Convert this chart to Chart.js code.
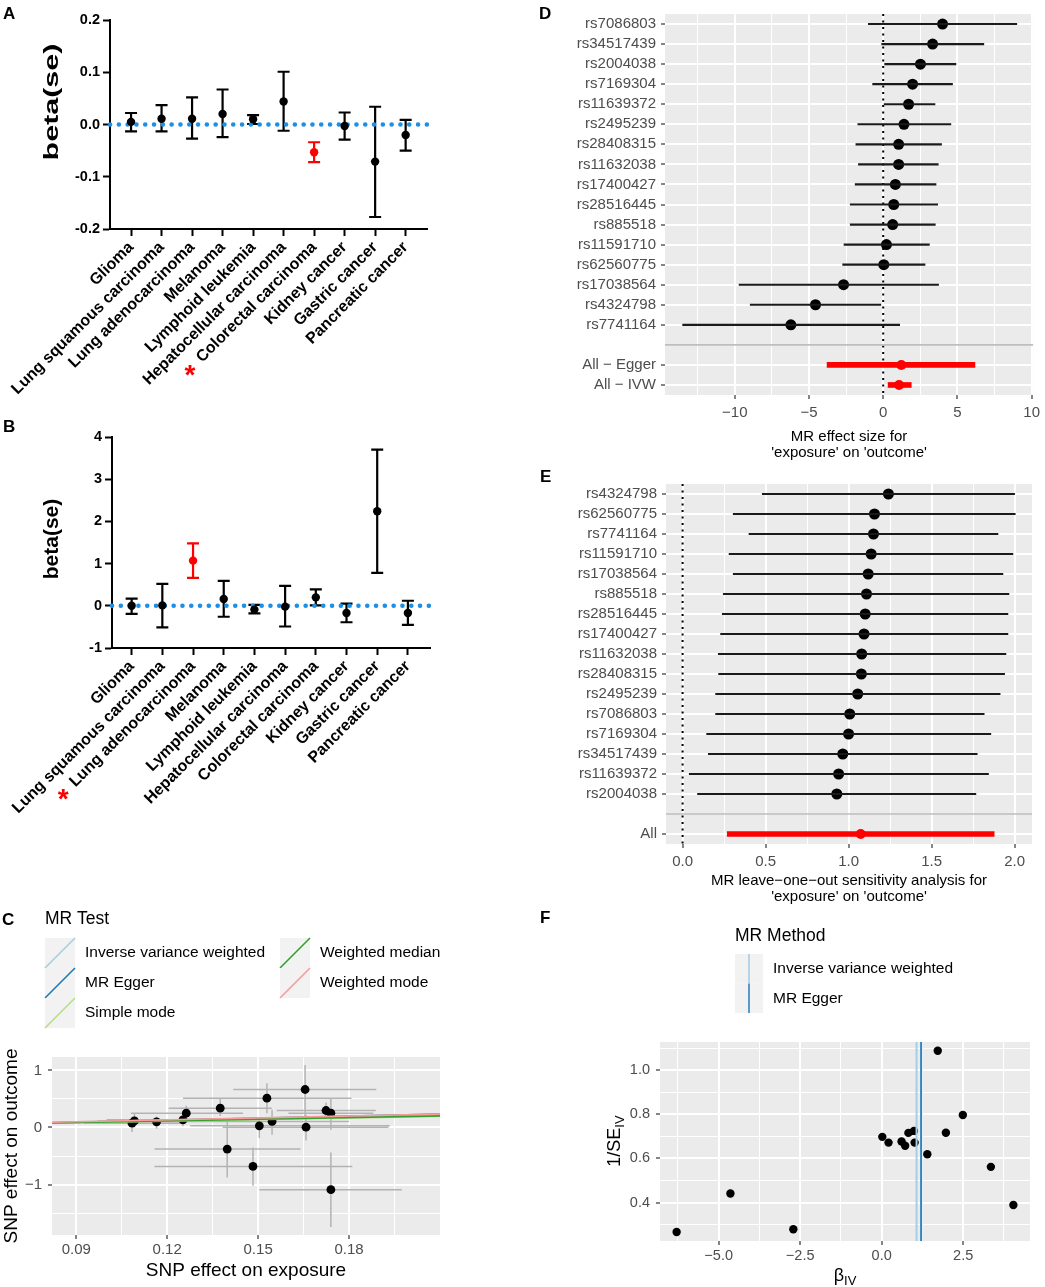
<!DOCTYPE html>
<html>
<head>
<meta charset="utf-8">
<script src="https://cdn.jsdelivr.net/npm/chart.js@4/dist/chart.umd.min.js"></script>
<style>
  body { margin: 0; background: #fff; width: 1045px; height: 1287px; position: relative; overflow: hidden; font-family: "Liberation Sans", Arial, sans-serif; }
  canvas { position: absolute; }
  .tag { position: absolute; font-weight: bold; font-size: 17px; line-height: 17px; color: #000; z-index: 2; }
</style>
</head>
<body>
<canvas id="cA" style="left:0;top:0;width:450px;height:420px" width="450" height="420"></canvas>
<canvas id="cB" style="left:0;top:420px;width:450px;height:480px" width="450" height="480"></canvas>
<canvas id="cC" style="left:0;top:900px;width:450px;height:387px" width="450" height="387"></canvas>
<canvas id="cD" style="left:540px;top:0;width:505px;height:470px" width="505" height="470"></canvas>
<canvas id="cE" style="left:540px;top:470px;width:505px;height:440px" width="505" height="440"></canvas>
<canvas id="cF" style="left:540px;top:900px;width:505px;height:387px" width="505" height="387"></canvas>
<div class="tag" style="left:3px;top:5px">A</div>
<div class="tag" style="left:3px;top:418px">B</div>
<div class="tag" style="left:2px;top:911px">C</div>
<div class="tag" style="left:539px;top:5px">D</div>
<div class="tag" style="left:540px;top:468px">E</div>
<div class="tag" style="left:540px;top:909px">F</div>
<script>
const FONT = '"Liberation Sans", Arial, Helvetica, sans-serif';
const RED = '#FF0000';

// A / B : per cancer type estimates
const cancerTypes = ['Glioma', 'Lung squamous carcinoma', 'Lung adenocarcinoma', 'Melanoma', 'Lymphoid leukemia',
  'Hepatocellular carcinoma', 'Colorectal carcinoma', 'Kidney cancer', 'Gastric cancer', 'Pancreatic cancer'];
const betaA = [0.005, 0.011, 0.011, 0.020, 0.010, 0.044, -0.053, -0.003, -0.071, -0.020];
const lowA  = [-0.013, -0.013, -0.027, -0.024, 0.001, -0.012, -0.072, -0.029, -0.177, -0.050];
const highA = [0.022, 0.037, 0.052, 0.067, 0.018, 0.101, -0.034, 0.023, 0.034, 0.009];
const sigA = 6;
const betaB = [0.00, 0.01, 1.07, 0.16, -0.09, -0.02, 0.20, -0.17, 2.24, -0.17];
const lowB  = [-0.19, -0.51, 0.66, -0.26, -0.18, -0.49, 0.01, -0.39, 0.78, -0.45];
const highB = [0.17, 0.52, 1.48, 0.59, 0.02, 0.47, 0.39, 0.05, 3.70, 0.12];
const sigB = 2;

// C : scatter of SNP effects
const snpExp  = [0.1084, 0.1092, 0.1165, 0.1252, 0.1263, 0.1375, 0.1398, 0.1483, 0.1504, 0.1529, 0.1546, 0.1655, 0.1658, 0.1724, 0.1740, 0.1740];
const snpOut  = [0.076, 0.117, 0.099, 0.134, 0.251, 0.338, -0.379, -0.682, 0.029, 0.513, 0.105, 0.665, 0.006, 0.297, 0.251, -1.090];
const expLow  = [0.0925, 0.0970, 0.1065, 0.1000, 0.1080, 0.1205, 0.1158, 0.1158, 0.1276, 0.1252, 0.1255, 0.1418, 0.1383, 0.1561, 0.1600, 0.1504];
const expHigh = [0.1245, 0.1215, 0.1265, 0.1505, 0.1450, 0.1545, 0.1640, 0.1811, 0.1934, 0.1808, 0.1800, 0.1890, 0.1930, 0.1888, 0.1880, 0.1974];
const outLow  = [-0.08, 0.00, -0.02, 0.02, 0.12, 0.20, -0.875, -1.02, -0.187, 0.251, -0.128, 0.192, -0.227, 0.163, -0.04, -1.743];
const outHigh = [0.17, 0.24, 0.19, 0.25, 0.38, 0.50, 0.134, -0.35, 0.163, 0.776, 0.31, 1.096, 0.22, 0.437, 0.513, -0.437];
const methodsC = ['Inverse variance weighted', 'MR Egger', 'Simple mode', 'Weighted median', 'Weighted mode'];
const slopeC = [1.07, 1.21, 0.93, 0.96, 1.11];
const interceptC = [0, -0.02, 0, 0, 0];
const methodColors = ['#A6CEE3', '#1F78B4', '#B2DF8A', '#33A02C', '#FB9A99'];

// D : single SNP forest plot
const snpD = ['rs7086803', 'rs34517439', 'rs2004038', 'rs7169304', 'rs11639372', 'rs2495239', 'rs28408315', 'rs11632038',
  'rs17400427', 'rs28516445', 'rs885518', 'rs11591710', 'rs62560775', 'rs17038564', 'rs4324798', 'rs7741164'];
const betaD = [4.00, 3.33, 2.51, 1.98, 1.71, 1.40, 1.04, 1.04, 0.82, 0.71, 0.64, 0.22, 0.04, -2.67, -4.56, -6.22];
const lowD  = [-1.00, -0.10, 0.10, -0.71, 0.00, -1.71, -1.84, -1.67, -1.89, -2.22, -2.22, -2.64, -2.73, -9.71, -8.96, -13.51];
const highD = [9.00, 6.78, 4.90, 4.67, 3.49, 4.56, 3.93, 3.71, 3.56, 3.67, 3.51, 3.11, 2.82, 3.73, -0.16, 1.11];
const summaryD = ['All \u2212 Egger', 'All \u2212 IVW'];
const sumBetaD = [1.22, 1.07];
const sumLowD  = [-3.78, 0.33];
const sumHighD = [6.18, 1.89];

// E : leave-one-out
const snpE = ['rs4324798', 'rs62560775', 'rs7741164', 'rs11591710', 'rs17038564', 'rs885518', 'rs28516445', 'rs17400427',
  'rs11632038', 'rs28408315', 'rs2495239', 'rs7086803', 'rs7169304', 'rs34517439', 'rs11639372', 'rs2004038'];
const betaE = [1.240, 1.156, 1.150, 1.136, 1.118, 1.108, 1.100, 1.093, 1.079, 1.077, 1.055, 1.007, 1.000, 0.965, 0.940, 0.929];
const lowE  = [0.480, 0.305, 0.400, 0.280, 0.305, 0.245, 0.239, 0.229, 0.215, 0.217, 0.199, 0.199, 0.145, 0.155, 0.040, 0.090];
const highE = [2.000, 2.004, 1.900, 1.990, 1.930, 1.966, 1.960, 1.960, 1.948, 1.940, 1.913, 1.817, 1.857, 1.775, 1.843, 1.767];
const summaryE = ['All'];
const sumBetaE = [1.073];
const sumLowE  = [0.269];
const sumHighE = [1.877];

// F : funnel plot
const betaIV = [-6.29, -4.64, -2.71, 0.02, 0.21, 0.61, 0.72, 0.82, 0.99, 1.01, 1.40, 1.72, 1.97, 2.49, 3.35, 4.04];
const invSE  = [0.267, 0.441, 0.279, 0.698, 0.672, 0.677, 0.658, 0.716, 0.725, 0.672, 0.619, 1.088, 0.717, 0.797, 0.562, 0.389];
const methodsF = ['Inverse variance weighted', 'MR Egger'];
const estF = [1.07, 1.21];
const colorsF = ['#A6CEE3', '#3182BD'];

// ---------- helpers ----------
const minusFmt = (v, d) => {
  if (Math.abs(v) < 1e-9) v = 0;
  const s = d === undefined ? String(Math.abs(v)) : Math.abs(v).toFixed(d);
  return v < 0 ? '\u2212' + s : s;
};
const isMajor = (v, step) => Math.abs(v / step - Math.round(v / step)) < 1e-6;
const fixTicks = vals => scale => { scale.ticks = vals.map(v => ({ value: v })); };

// grey panel behind the plot area (ggplot look)
const panelBg = {
  id: 'panelBg',
  beforeDraw(chart, args, opts) {
    if (!opts.color) return;
    const { ctx, chartArea: a } = chart;
    ctx.save();
    ctx.fillStyle = opts.color;
    ctx.fillRect(a.left, a.top, a.width, a.height);
    ctx.restore();
  }
};

// error bars stored on the dataset, drawn through the chart scales
const errorBarPlugin = {
  id: 'errorBarPlugin',
  beforeDatasetsDraw(chart) {
    const ctx = chart.ctx;
    chart.data.datasets.forEach((ds, i) => {
      if (!ds.errorBars) return;
      const meta = chart.getDatasetMeta(i);
      const xs = chart.scales[meta.xAxisID], ys = chart.scales[meta.yAxisID];
      ds.errorBars.forEach(eb => {
        ctx.save();
        ctx.lineWidth = eb.width;
        ds.data.forEach((p, j) => {
          ctx.strokeStyle = Array.isArray(eb.color) ? eb.color[j] : eb.color;
          ctx.beginPath();
          if (eb.axis === 'y') {
            const px = xs.getPixelForValue(p.x);
            const y1 = ys.getPixelForValue(eb.lo[j]), y2 = ys.getPixelForValue(eb.hi[j]);
            ctx.moveTo(px, y1); ctx.lineTo(px, y2);
            if (eb.cap) {
              ctx.moveTo(px - eb.cap, y1); ctx.lineTo(px + eb.cap, y1);
              ctx.moveTo(px - eb.cap, y2); ctx.lineTo(px + eb.cap, y2);
            }
          } else {
            const py = ys.getPixelForValue(p.y);
            ctx.moveTo(xs.getPixelForValue(eb.lo[j]), py);
            ctx.lineTo(xs.getPixelForValue(eb.hi[j]), py);
          }
          ctx.stroke();
        });
        ctx.restore();
      });
    });
  }
};
Chart.register(panelBg, errorBarPlugin);

// reference lines at a data value, spanning the plot area
function refLines(lines, after) {
  const draw = chart => {
    const { ctx, chartArea: a } = chart;
    lines.forEach(l => {
      ctx.save();
      ctx.strokeStyle = l.color;
      ctx.lineWidth = l.width;
      ctx.setLineDash(l.dash || []);
      ctx.lineCap = l.cap || 'butt';
      ctx.beginPath();
      if (l.axis === 'x') {
        const p = chart.scales.x.getPixelForValue(l.value);
        ctx.moveTo(p, a.top); ctx.lineTo(p, a.bottom);
      } else {
        const p = chart.scales.y.getPixelForValue(l.value);
        ctx.moveTo(a.left, p); ctx.lineTo(a.right, p);
      }
      ctx.stroke();
      ctx.restore();
    });
  };
  return after ? { id: 'refAfter', afterDatasetsDraw: draw } : { id: 'refBefore', beforeDatasetsDraw: draw };
}

// free text (titles with subscripts, legends)
function textLayer(items) {
  return {
    id: 'textLayer',
    afterDraw(chart) {
      const ctx = chart.ctx;
      items.forEach(it => {
        ctx.save();
        ctx.translate(it.x, it.y);
        if (it.rot) ctx.rotate(it.rot);
        if (it.sx) ctx.scale(it.sx, 1);
        ctx.fillStyle = it.color || '#000';
        ctx.textBaseline = 'middle';
        ctx.textAlign = 'left';
        const segs = it.segs || [{ t: it.text, font: it.font }];
        let total = 0;
        segs.forEach(s => { ctx.font = s.font; s.w = ctx.measureText(s.t).width; total += s.w; });
        let x = it.align === 'left' ? 0 : -total / 2;
        segs.forEach(s => { ctx.font = s.font; ctx.fillText(s.t, x, s.dy || 0); x += s.w; });
        ctx.restore();
      });
    }
  };
}

// legend keys drawn as ggplot boxes
function legendKeys(keys) {
  return {
    id: 'legendKeys',
    afterDraw(chart) {
      const ctx = chart.ctx;
      keys.forEach(k => {
        ctx.save();
        ctx.fillStyle = '#F2F2F2';
        ctx.fillRect(k.x, k.y, k.w, k.h);
        ctx.strokeStyle = k.color;
        ctx.lineWidth = 1.6;
        ctx.beginPath();
        if (k.kind === 'diag') { ctx.moveTo(k.x, k.y + k.h); ctx.lineTo(k.x + k.w, k.y); }
        else { ctx.moveTo(k.x + k.w / 2, k.y); ctx.lineTo(k.x + k.w / 2, k.y + k.h); }
        ctx.stroke();
        ctx.restore();
      });
    }
  };
}

// red asterisk in front of a rotated category label
function starMark(idx) {
  return {
    id: 'starMark',
    afterDraw(chart) {
      const s = chart.scales.x, ctx = chart.ctx;
      ctx.save();
      ctx.font = 'bold 16px ' + FONT;
      const w = ctx.measureText(cancerTypes[idx]).width;
      const ex = s.getPixelForValue(idx), ey = s.top + 9 + 0.354 * 19.2;
      const d = w + 13;
      ctx.fillStyle = RED;
      ctx.font = 'bold 28px ' + FONT;
      ctx.textAlign = 'center';
      ctx.textBaseline = 'middle';
      ctx.fillText('*', ex - d * Math.SQRT1_2, ey + d * Math.SQRT1_2 + 7);
      ctx.restore();
    }
  };
}

// ---------- A and B (Prism style) ----------
function prismPanel(id, beta, lo, hi, sig, cfg) {
  const colors = cancerTypes.map((_, i) => (i === sig ? RED : '#000'));
  const axisFont = { family: FONT, size: 14.5, weight: 'bold' };
  new Chart(document.getElementById(id), {
    type: 'scatter',
    data: {
      datasets: [{
        data: beta.map((b, i) => ({ x: i, y: b })),
        pointRadius: 4.2,
        pointBorderWidth: 0,
        pointBackgroundColor: colors,
        errorBars: [{ axis: 'y', lo: lo, hi: hi, color: colors, width: 2.2, cap: 6 }]
      }]
    },
    options: {
      responsive: false,
      animation: false,
      layout: { padding: cfg.padding },
      plugins: { legend: { display: false }, tooltip: { enabled: false } },
      scales: {
        x: {
          type: 'linear', min: cfg.xMin, max: cfg.xMax,
          afterBuildTicks: fixTicks(cancerTypes.map((_, i) => i)),
          afterFit: s => { s.height = cfg.xHeight; },
          ticks: {
            autoSkip: false, minRotation: 45, maxRotation: 45, padding: 2, color: '#000',
            font: { family: FONT, size: 16, weight: 'bold' },
            callback: v => cancerTypes[v]
          },
          grid: { drawOnChartArea: false, tickLength: 7, tickColor: '#000', tickWidth: 2 },
          border: { color: '#000', width: 2 }
        },
        y: {
          type: 'linear', min: cfg.yTicks[0], max: cfg.yTicks[cfg.yTicks.length - 1],
          afterBuildTicks: fixTicks(cfg.yTicks),
          afterFit: s => { s.width = cfg.yWidth; },
          ticks: { padding: 3, color: '#000', font: axisFont, callback: v => cfg.yFmt(v) },
          grid: { drawOnChartArea: false, tickLength: 7, tickColor: '#000', tickWidth: 2 },
          border: { color: '#000', width: 2 }
        }
      }
    },
    plugins: [
      refLines([{ axis: 'y', value: 0, color: '#1E8FE6', width: 4.5, dash: [0.1, 8.7], cap: 'round' }], false),
      starMark(sig),
      textLayer([{ text: 'beta(se)', font: 'bold 21px ' + FONT, x: 52, y: cfg.titleY, rot: -Math.PI / 2, sx: cfg.titleStretch }])
    ]
  });
}

const fmt1 = v => (Math.abs(v) < 1e-9 ? '0.0' : v.toFixed(1));
prismPanel('cA', betaA, lowA, highA, sigA, {
  padding: { top: 20, right: 23, left: 0, bottom: 0 }, xMin: -0.69, xMax: 9.7, xHeight: 191, yWidth: 110,
  yTicks: [-0.2, -0.1, 0, 0.1, 0.2], yFmt: fmt1, titleY: 102, titleStretch: 1.45
});
prismPanel('cB', betaB, lowB, highB, sigB, {
  padding: { top: 17, right: 20, left: 0, bottom: 0 }, xMin: -0.64, xMax: 9.72, xHeight: 252, yWidth: 112,
  yTicks: [-1, 0, 1, 2, 3, 4], yFmt: v => String(Math.round(v)), titleY: 119, titleStretch: 1
});

// ---------- ggplot style axes ----------
const GG_TICK_FONT = size => ({ family: FONT, size: size });
function ggAxis(o) {
  return {
    type: 'linear', min: o.min, max: o.max,
    afterBuildTicks: fixTicks(o.ticks),
    afterFit: s => { if (o.height) s.height = o.height; if (o.width) s.width = o.width; },
    ticks: {
      autoSkip: false, maxRotation: 0, padding: o.pad, color: '#4D4D4D', font: GG_TICK_FONT(o.size || 15),
      callback: v => (isMajor(v - o.origin, o.step) ? minusFmt(v, o.digits) : '')
    },
    grid: {
      color: '#fff',
      lineWidth: c => (c.tick && isMajor(c.tick.value - o.origin, o.step) ? 2 : 1),
      tickLength: 4,
      tickWidth: 1.2,
      tickColor: c => (c.tick && isMajor(c.tick.value - o.origin, o.step) ? '#333' : 'rgba(0,0,0,0)')
    },
    border: { display: false },
    title: o.title || { display: false }
  };
}

// ---------- C ----------
const xMinC = 0.082, xMaxC = 0.210;
const cKeys = [], cTexts = [{ text: 'MR Test', font: '17.5px ' + FONT, x: 45, y: 19, align: 'left' }];
methodsC.forEach((m, i) => {
  const col = Math.floor(i / 3), row = i % 3;
  const kx = [45, 280][col], ky = 38 + 30 * row;
  cKeys.push({ x: kx, y: ky, w: 30, h: 30, color: methodColors[i], kind: 'diag' });
  cTexts.push({ text: m, font: '15.5px ' + FONT, x: kx + 40, y: ky + 15, align: 'left' });
});
new Chart(document.getElementById('cC'), {
  type: 'scatter',
  data: {
    datasets: methodsC.map((m, i) => ({
      label: m,
      data: [xMinC, xMaxC].map(x => ({ x: x, y: interceptC[i] + slopeC[i] * x })),
      showLine: true, borderColor: methodColors[i], borderWidth: 1.7, pointRadius: 0,
      order: methodsC.length - 1 - i
    })).concat([{
      label: 'SNPs',
      data: snpExp.map((x, i) => ({ x: x, y: snpOut[i] })),
      pointRadius: 4.4, pointBorderWidth: 0, pointBackgroundColor: '#000', order: 10,
      errorBars: [
        { axis: 'y', lo: outLow, hi: outHigh, color: '#B3B3B3', width: 1.5 },
        { axis: 'x', lo: expLow, hi: expHigh, color: '#B3B3B3', width: 1.5 }
      ]
    }])
  },
  options: {
    responsive: false, animation: false,
    layout: { padding: { top: 157, right: 10, left: 0, bottom: 0 } },
    plugins: { legend: { display: false }, tooltip: { enabled: false }, panelBg: { color: '#EBEBEB' } },
    scales: {
      x: ggAxis({ min: xMinC, max: xMaxC, ticks: [0.09, 0.105, 0.12, 0.135, 0.15, 0.165, 0.18, 0.195], origin: 0, step: 0.03, digits: 2, pad: 2, height: 52,
        title: { display: true, text: 'SNP effect on exposure', color: '#000', font: { family: FONT, size: 19 }, padding: { top: 0, bottom: 4.6 } } }),
      y: ggAxis({ min: -1.883, max: 1.234, ticks: [-1.5, -1, -0.5, 0, 0.5, 1], origin: 0, step: 1, pad: 6, width: 52,
        title: { display: true, text: 'SNP effect on outcome', color: '#000', font: { family: FONT, size: 19 }, padding: { top: 0.6, bottom: 0 } } })
    }
  },
  plugins: [legendKeys(cKeys), textLayer(cTexts)]
});

// ---------- D and E (forest plots) ----------
function forestPanel(id, snps, beta, lo, hi, sums, sBeta, sLo, sHi, cfg) {
  const labels = snps.concat([''], sums);
  const sepIdx = snps.length;
  const snpCI = labels.map((_, i) => (i < snps.length ? [lo[i], hi[i]] : null));
  const sumCI = labels.map((_, i) => (i > sepIdx ? [sLo[i - sepIdx - 1], sHi[i - sepIdx - 1]] : null));
  const pts = snps.map((s, i) => ({ x: beta[i], y: s })).concat(sums.map((s, i) => ({ x: sBeta[i], y: s })));
  const ptColors = pts.map((_, i) => (i < snps.length ? '#000' : RED));
  const ptRadius = pts.map((_, i) => (i < snps.length ? 5.5 : 5));
  new Chart(document.getElementById(id), {
    type: 'bar',
    data: {
      labels: labels,
      datasets: [
        { data: snpCI, backgroundColor: '#1A1A1A', barThickness: 1.5, grouped: false, borderWidth: 0 },
        { data: sumCI, backgroundColor: RED, barThickness: 5, grouped: false, borderWidth: 0 },
        { type: 'scatter', data: pts, pointRadius: ptRadius, pointBorderWidth: 0, pointBackgroundColor: ptColors }
      ]
    },
    options: {
      indexAxis: 'y',
      responsive: false, animation: false,
      layout: { padding: cfg.padding },
      plugins: { legend: { display: false }, tooltip: { enabled: false }, panelBg: { color: '#EBEBEB' } },
      scales: {
        x: ggAxis({ min: cfg.xMin, max: cfg.xMax, ticks: cfg.xTicks, origin: 0, step: cfg.step, digits: cfg.digits, pad: 5, height: cfg.xHeight,
          title: { display: true, text: cfg.title, color: '#000', font: { family: FONT, size: 15, lineHeight: 1.07 }, padding: { top: 0, bottom: cfg.titlePad } } }),
        y: {
          type: 'category', offset: true,
          afterFit: s => { s.width = cfg.yWidth; },
          ticks: { autoSkip: false, padding: 5, color: '#4D4D4D', font: { family: FONT, size: 15 } },
          grid: {
            offset: false,
            color: c => (c.index === sepIdx ? 'rgba(0,0,0,0)' : '#fff'),
            lineWidth: 2, tickLength: 4, tickWidth: 1.2,
            tickColor: c => (c.index === sepIdx ? 'rgba(0,0,0,0)' : '#333')
          },
          border: { display: false }
        }
      }
    },
    plugins: [refLines([
      { axis: 'x', value: 0, color: '#000', width: 2, dash: [2, 4.5] },
      { axis: 'y', value: sepIdx, color: '#BEBEBE', width: 1.6 }
    ], false)]
  });
}

forestPanel('cD', snpD, betaD, lowD, highD, summaryD, sumBetaD, sumLowD, sumHighD, {
  padding: { top: 3, right: 8, left: 0, bottom: 0 }, xMin: -14.7, xMax: 10.1,
  xTicks: [-12.5, -10, -7.5, -5, -2.5, 0, 2.5, 5, 7.5, 10], step: 5, digits: undefined,
  xHeight: 75, yWidth: 125, titlePad: 9.3,
  title: ['MR effect size for', "'exposure' on 'outcome'"]
});
forestPanel('cE', snpE, betaE, lowE, highE, summaryE, sumBetaE, sumLowE, sumHighE, {
  padding: { top: 7, right: 13, left: 0, bottom: 0 }, xMin: -0.1, xMax: 2.105,
  xTicks: [0, 0.25, 0.5, 0.75, 1, 1.25, 1.5, 1.75, 2], step: 0.5, digits: 1,
  xHeight: 66, yWidth: 126, titlePad: 5.3,
  title: ['MR leave\u2212one\u2212out sensitivity analysis for', "'exposure' on 'outcome'"]
});

// ---------- F (funnel) ----------
const fKeys = [], fTexts = [{ text: 'MR Method', font: '17.5px ' + FONT, x: 195, y: 36, align: 'left' }];
methodsF.forEach((m, i) => {
  const ky = 54 + 29.5 * i;
  fKeys.push({ x: 195, y: ky, w: 28, h: 29.5, color: colorsF[i], kind: 'vert' });
  fTexts.push({ text: m, font: '15.5px ' + FONT, x: 233, y: ky + 15, align: 'left' });
});
fTexts.push({ x: 75, y: 241, rot: -Math.PI / 2, segs: [
  { t: '1/SE', font: '18px ' + FONT }, { t: 'IV', font: '13px ' + FONT, dy: 5 }] });
fTexts.push({ x: 305, y: 376, segs: [
  { t: '\u03B2', font: '18px ' + FONT }, { t: 'IV', font: '13px ' + FONT, dy: 5 }] });
new Chart(document.getElementById('cF'), {
  type: 'scatter',
  data: {
    datasets: [{
      data: betaIV.map((b, i) => ({ x: b, y: invSE[i] })),
      pointRadius: 4.2, pointBorderWidth: 0, pointBackgroundColor: '#000'
    }]
  },
  options: {
    responsive: false, animation: false,
    layout: { padding: { top: 142, right: 15, left: 0, bottom: 0 } },
    plugins: { legend: { display: false }, tooltip: { enabled: false }, panelBg: { color: '#EBEBEB' } },
    scales: {
      x: ggAxis({ min: -6.8, max: 4.55, ticks: [-6.25, -5, -3.75, -2.5, -1.25, 0, 1.25, 2.5, 3.75], origin: 0, step: 2.5, digits: 1, pad: 2, height: 46, size: 14.5 }),
      y: ggAxis({ min: 0.226, max: 1.128, ticks: [0.3, 0.4, 0.5, 0.6, 0.7, 0.8, 0.9, 1.0, 1.1], origin: 0, step: 0.2, digits: 1, pad: 6, width: 120, size: 14.5 })
    }
  },
  plugins: [
    refLines(estF.map((v, i) => ({ axis: 'x', value: v, color: colorsF[i], width: 2 })), true),
    legendKeys(fKeys),
    textLayer(fTexts)
  ]
});
</script>
</body>
</html>
